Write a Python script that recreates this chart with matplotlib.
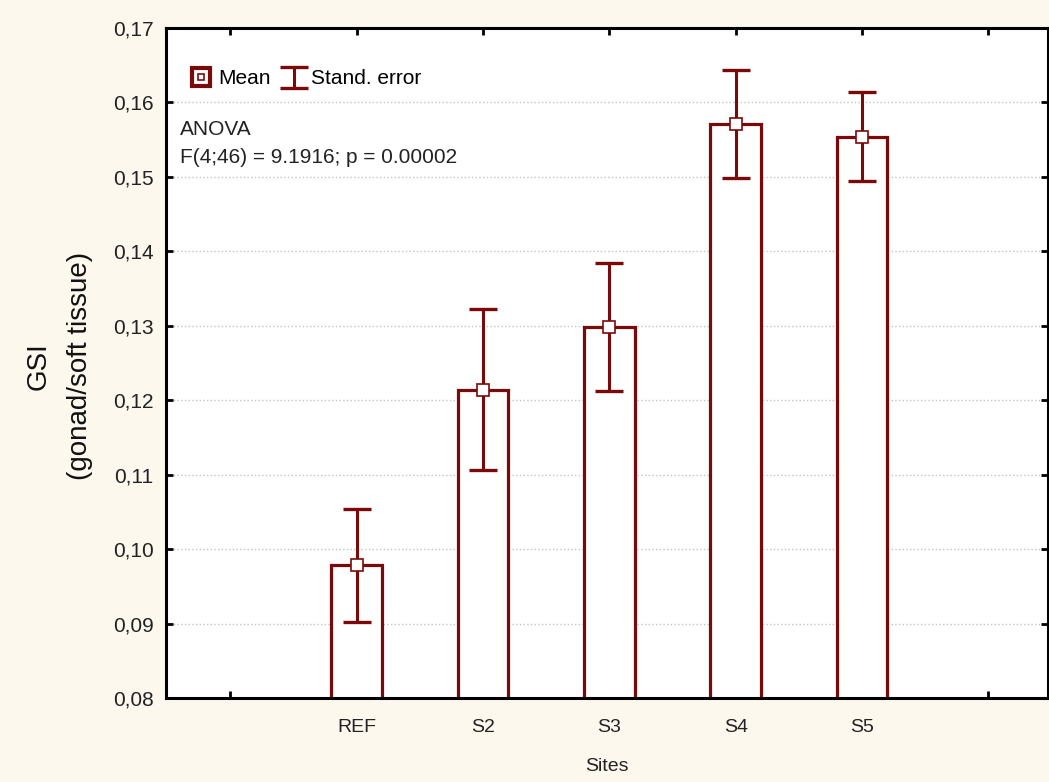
import matplotlib
matplotlib.use('Agg')
import matplotlib.pyplot as plt
from matplotlib.lines import Line2D
from matplotlib.legend_handler import HandlerTuple
from matplotlib.ticker import FuncFormatter

# data
sites = ['REF', 'S2', 'S3', 'S4', 'S5']
means = [0.0978, 0.1214, 0.1298, 0.1571, 0.1554]
std_err = [0.0076, 0.0108, 0.0086, 0.0073, 0.0060]
y_ticks = [0.08, 0.09, 0.10, 0.11, 0.12, 0.13, 0.14, 0.15, 0.16, 0.17]

red = '#7A0A0A'
plt.rcParams['font.family'] = ['Liberation Sans', 'DejaVu Sans']

fig = plt.figure(figsize=(10.49, 7.82), dpi=100)
fig.patch.set_facecolor('#FCF8EE')
ax = fig.add_axes([0.1582, 0.1074, 0.8405, 0.8568])
ax.set_facecolor('white')

x = list(range(1, len(sites) + 1))

# gridlines first so bars cover them
for v in y_ticks[1:-1]:
    ax.axhline(v, color='#c4c4c4', lw=1.0, ls=':', zorder=0)

ax.bar(x, means, width=0.4, bottom=0, color='white', edgecolor=red, linewidth=2.3, zorder=2)
err = ax.errorbar(x, means, yerr=std_err, fmt='none', ecolor=red, elinewidth=2.2,
                  capsize=10, capthick=2.4, zorder=3)
ax.plot(x, means, ls='none', marker='s', markersize=8, markerfacecolor='white',
        markeredgecolor=red, markeredgewidth=1.2, zorder=4)

ax.set_xlim(-0.51, 6.47)
ax.set_ylim(0.08, 0.17)
ax.set_yticks(y_ticks)
ax.yaxis.set_major_formatter(FuncFormatter(lambda v, p: ('%.2f' % v).replace('.', ',')))
ax.set_xticks(range(0, 7))
ax.set_xticklabels([''] + sites + [''])

ax.tick_params(direction='in', length=5, width=2, top=True, right=True,
               colors='black', labelcolor='#222222')
ax.tick_params(axis='x', pad=15, labelsize=14)
ax.tick_params(axis='y', pad=9, labelsize=15)
for s in ax.spines.values():
    s.set_linewidth(2.2)
    s.set_color('black')

ax.set_xlabel('Sites', fontsize=14, color='#222222', labelpad=16)

# two-line y title, placed in figure pixels
fig.text(39 / 1049, 1 - 366 / 782, 'GSI', rotation=90, fontsize=20,
         color='#111111', ha='center', va='center')
fig.text(80 / 1049, 1 - 366 / 782, '(gonad/soft tissue)', rotation=90, fontsize=20,
         color='#111111', ha='center', va='center')

# legend: double square for mean, I-shape for standard error
outer = Line2D([], [], ls='none', marker='s', markersize=13, markerfacecolor='white',
               markeredgecolor=red, markeredgewidth=3)
inner = Line2D([], [], ls='none', marker='s', markersize=5, markerfacecolor='white',
               markeredgecolor=red, markeredgewidth=1.2)
ax.legend([(outer, inner), err], ['Mean', 'Stand. error'],
          handler_map={tuple: HandlerTuple(ndivide=1)},
          loc='center left', bbox_to_anchor=(0.02, 0.924), ncol=2, frameon=False,
          fontsize=15, handlelength=0.9, handletextpad=0.35, columnspacing=0.7,
          borderaxespad=0)

ax.text(0.016, 0.848, 'ANOVA', transform=ax.transAxes, fontsize=15,
        color='#222222', va='center')
ax.text(0.016, 0.806, 'F(4;46) = 9.1916; p = 0.00002', transform=ax.transAxes,
        fontsize=15, color='#222222', va='center')

fig.savefig('out.png', dpi=100, facecolor=fig.get_facecolor())
